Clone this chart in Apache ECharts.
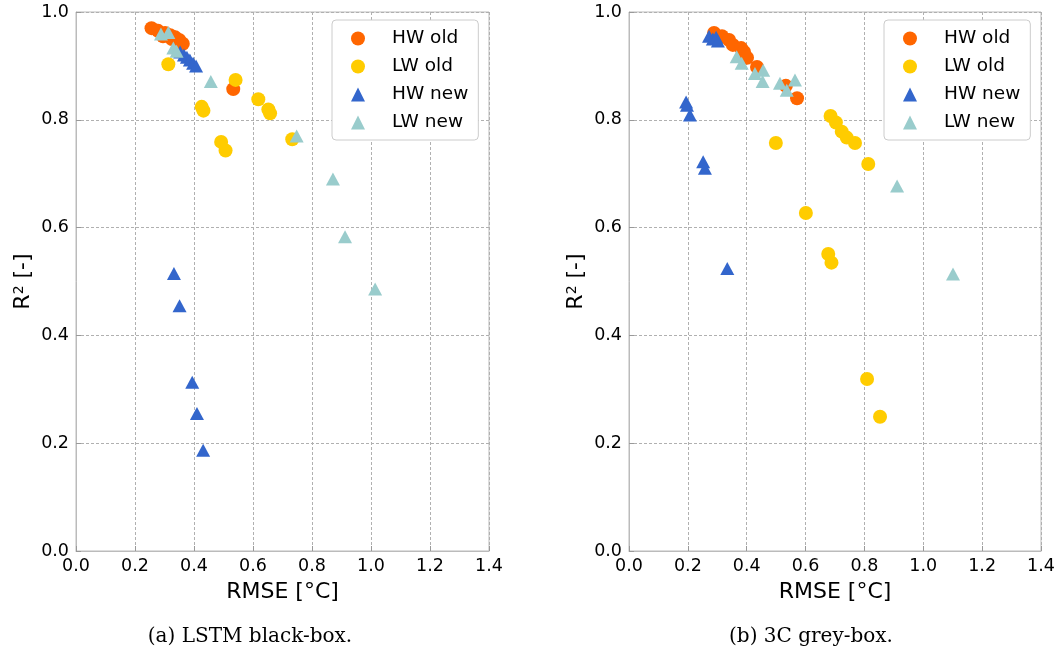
<!DOCTYPE html>
<html><head><meta charset="utf-8">
<script src="https://cdn.jsdelivr.net/npm/echarts@6/dist/echarts.min.js"></script>
<style>html,body{margin:0;padding:0;background:#fff}#c{width:1061px;height:655px}</style>
</head><body><div id="c"></div>
<script>
// ---- data (RMSE [°C], R²) ----
const seriesNames = ['HW old', 'LW old', 'HW new', 'LW new'];
const xTicks = [0, 0.2, 0.4, 0.6, 0.8, 1.0, 1.2, 1.4];
const yTicks = [0, 0.2, 0.4, 0.6, 0.8, 1.0];
const captions = ['(a) LSTM black-box.', '(b) 3C grey-box.'];

// (a) LSTM black-box
const lstmHwOld = [[0.256,0.970],[0.278,0.965],[0.295,0.955],[0.302,0.961],[0.319,0.957],[0.325,0.950],[0.336,0.953],[0.350,0.948],[0.362,0.941],[0.533,0.857]];
const lstmLwOld = [[0.313,0.903],[0.426,0.824],[0.432,0.817],[0.492,0.759],[0.507,0.743],[0.541,0.874],[0.618,0.838],[0.652,0.819],[0.658,0.812],[0.733,0.764]];
const lstmHwNew = [[0.353,0.926],[0.366,0.920],[0.376,0.916],[0.386,0.911],[0.397,0.905],[0.407,0.900],[0.332,0.515],[0.351,0.455],[0.394,0.313],[0.410,0.255],[0.431,0.187]];
const lstmLwNew = [[0.288,0.959],[0.313,0.962],[0.330,0.933],[0.341,0.927],[0.457,0.871],[0.748,0.770],[0.871,0.690],[0.912,0.583],[1.014,0.486]];

// (b) 3C grey-box
const greyHwOld = [[0.289,0.961],[0.316,0.955],[0.340,0.948],[0.353,0.939],[0.381,0.933],[0.391,0.926],[0.401,0.915],[0.435,0.898],[0.533,0.863],[0.571,0.840]];
const greyLwOld = [[0.499,0.757],[0.685,0.807],[0.703,0.795],[0.723,0.778],[0.740,0.767],[0.768,0.757],[0.813,0.718],[0.601,0.627],[0.677,0.551],[0.688,0.535],[0.809,0.319],[0.853,0.249]];
const greyHwNew = [[0.272,0.955],[0.285,0.950],[0.296,0.953],[0.302,0.946],[0.194,0.833],[0.197,0.827],[0.207,0.809],[0.252,0.722],[0.258,0.710],[0.334,0.524]];
const greyLwNew = [[0.366,0.917],[0.383,0.905],[0.428,0.886],[0.456,0.892],[0.454,0.871],[0.513,0.868],[0.536,0.855],[0.564,0.874],[0.911,0.677],[1.101,0.514]];

// ---- styling ----
const colors = ['#FF6600', '#FFCC00', '#3366CC', '#99CCCC'];
const symbols = ['circle', 'circle', 'triangle', 'triangle'];
const sizes = [14, 14, [14, 13], [14, 13]];
const panels = [[lstmHwOld, lstmLwOld, lstmHwNew, lstmLwNew], [greyHwOld, greyLwOld, greyHwNew, greyLwNew]];
const gridPos = [{left: 76, width: 413}, {left: 629, width: 412}];
const FONT = 'DejaVu Sans';

function xAxisCfg(i) {
  return {
    type: 'value', gridIndex: i, min: xTicks[0], max: xTicks[xTicks.length - 1], interval: 0.2,
    name: 'RMSE [°C]', nameLocation: 'middle', nameGap: 30,
    nameTextStyle: {fontFamily: FONT, fontSize: 22, color: '#000'},
    axisLine: {show: true, lineStyle: {color: '#bbbbbb', width: 1}},
    axisTick: {show: true, inside: true, length: 5, lineStyle: {color: '#999'}},
    axisLabel: {fontFamily: FONT, fontSize: 17.5, color: '#000', margin: 6, formatter: v => v.toFixed(1)},
    splitLine: {show: true, lineStyle: {color: '#b0b0b0', type: [3, 2], width: 1}}
  };
}
function yAxisCfg(i) {
  return {
    type: 'value', gridIndex: i, min: yTicks[0], max: yTicks[yTicks.length - 1], interval: 0.2,
    name: 'R{sup|2} [-]', nameLocation: 'middle', nameGap: 41,
    nameTextStyle: {fontFamily: FONT, fontSize: 22, color: '#000',
      rich: {sup: {fontFamily: FONT, fontSize: 14, color: '#000', padding: [0, 0, 9, 0]}}},
    axisLine: {show: true, lineStyle: {color: '#bbbbbb', width: 1}},
    axisTick: {show: true, inside: true, length: 5, lineStyle: {color: '#999'}},
    axisLabel: {fontFamily: FONT, fontSize: 17.5, color: '#000', margin: 7, formatter: v => v.toFixed(1)},
    splitLine: {show: true, lineStyle: {color: '#b0b0b0', type: [3, 2], width: 1}}
  };
}
function legendCfg(left) {
  return {
    orient: 'vertical', left: left, top: 20,
    backgroundColor: '#fff', borderColor: '#cccccc', borderWidth: 1, borderRadius: 4,
    padding: [9, 10, 8, 19], itemGap: 9, itemWidth: 14, itemHeight: 14,
    selectedMode: false,
    textStyle: {fontFamily: FONT, fontSize: 18.5, color: '#000', padding: [0, 0, 0, 22]},
    data: seriesNames.map((n, k) => ({name: n, icon: symbols[k]}))
  };
}

const series = [];
panels.forEach((sets, i) => {
  sets.forEach((d, k) => {
    series.push({
      type: 'scatter', name: seriesNames[k], xAxisIndex: i, yAxisIndex: i,
      data: d, symbol: symbols[k], symbolSize: sizes[k],
      itemStyle: {color: colors[k], opacity: 1},
      emphasis: {disabled: true}, animation: false
    });
  });
});

const chart = echarts.init(document.getElementById('c'), null, {renderer: 'canvas'});
chart.setOption({
  backgroundColor: '#fff',
  animation: false,
  grid: gridPos.map(g => ({left: g.left, width: g.width, top: 12, height: 539, show: true,
    borderColor: '#bbbbbb', borderWidth: 1, backgroundColor: 'transparent'})),
  xAxis: [xAxisCfg(0), xAxisCfg(1)],
  yAxis: [yAxisCfg(0), yAxisCfg(1)],
  legend: [legendCfg(332), legendCfg(884)],
  graphic: [
    {type: 'text', x: 250, y: 637, style: {text: captions[0], fontFamily: 'DejaVu Serif', fontSize: 20, fill: '#000', textAlign: 'center', textVerticalAlign: 'middle'}},
    {type: 'text', x: 811, y: 637, style: {text: captions[1], fontFamily: 'DejaVu Serif', fontSize: 20, fill: '#000', textAlign: 'center', textVerticalAlign: 'middle'}}
  ],
  series: series
});
</script></body></html>
